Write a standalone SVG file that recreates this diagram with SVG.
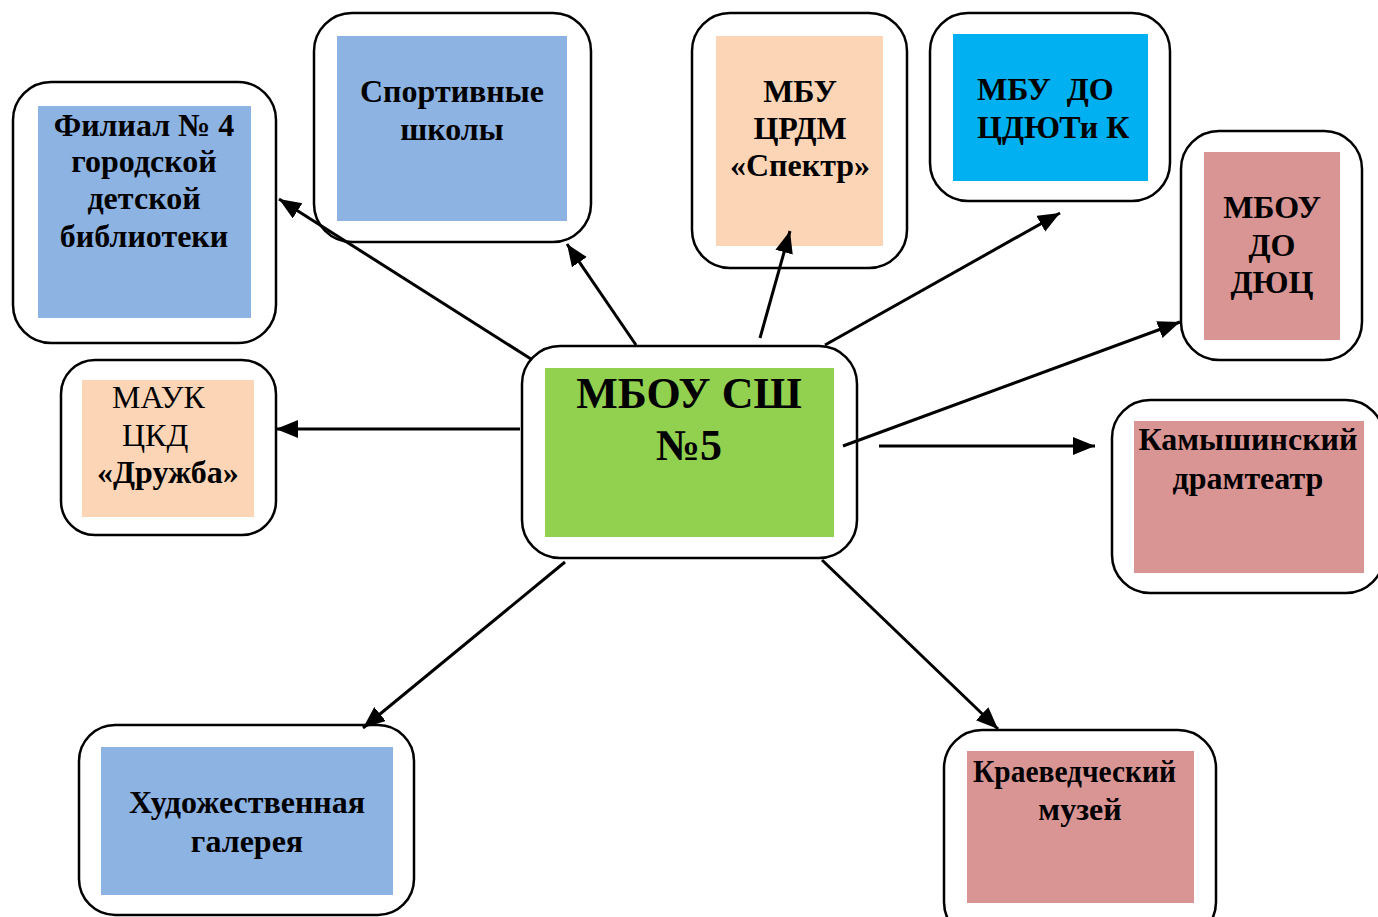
<svg xmlns="http://www.w3.org/2000/svg" width="1378" height="917" viewBox="0 0 1378 917">
<style>
.box{fill:#fff;stroke:#000;stroke-width:2.5}
.t{font-family:"Liberation Serif","Times New Roman",serif;font-weight:bold;font-size:32px;fill:#000}
.r{font-weight:normal}
.c{text-anchor:middle}
.blue{fill:#8DB3E2}.peach{fill:#FBD5B5}.cyan{fill:#00B0F0}.rose{fill:#D99594}.green{fill:#92D050}
.ln{stroke:#000;stroke-width:3;fill:none;marker-end:url(#ah)}
</style>
<defs>
<marker id="ah" markerUnits="userSpaceOnUse" markerWidth="24" markerHeight="20" refX="22" refY="9" orient="auto" viewBox="0 0 24 20">
<path d="M0,0 L22,9 L0,18 z" fill="#000"/>
</marker>
</defs>
<rect width="1378" height="917" fill="#fff"/>
<g id="filial">
<rect class="box" x="13" y="82" width="263" height="261" rx="38"/>
<rect class="blue" x="38" y="106" width="213" height="212"/>
<text class="t c" x="144"><tspan x="144" y="136">Филиал № 4</tspan><tspan x="144" y="172">городской</tspan><tspan x="144" y="209">детской</tspan><tspan x="144" y="247">библиотеки</tspan></text>
</g>
<g id="sport">
<rect class="box" x="314" y="13" width="277" height="229" rx="38"/>
<rect class="blue" x="337" y="36" width="230" height="185"/>
<text class="t c"><tspan x="452" y="102">Спортивные</tspan><tspan x="452" y="140">школы</tspan></text>
</g>
<g id="crdm">
<rect class="box" x="692" y="13" width="215" height="255" rx="38"/>
<rect class="peach" x="716" y="36" width="167" height="210"/>
<text class="t c"><tspan x="800" y="102">МБУ</tspan><tspan x="800" y="139">ЦРДМ</tspan><tspan x="800" y="176">«Спектр»</tspan></text>
</g>
<g id="cdyut">
<rect class="box" x="930" y="13" width="240" height="188" rx="38"/>
<rect class="cyan" x="953" y="34" width="195" height="147"/>
<text class="t" style="white-space:pre"><tspan x="977" y="100">МБУ  ДО</tspan><tspan x="977" y="138">ЦДЮТи К</tspan></text>
</g>
<g id="dyuc">
<rect class="box" x="1181" y="131" width="181" height="229" rx="38"/>
<rect class="rose" x="1204" y="152" width="136" height="188"/>
<text class="t c"><tspan x="1272" y="218">МБОУ</tspan><tspan x="1272" y="256">ДО</tspan><tspan x="1272" y="293">ДЮЦ</tspan></text>
</g>
<g id="drama">
<rect class="box" x="1112" y="400" width="272" height="193" rx="38"/>
<rect class="rose" x="1134" y="421" width="230" height="152"/>
<text class="t c"><tspan x="1248" y="450">Камышинский</tspan><tspan x="1248" y="489">драмтеатр</tspan></text>
</g>
<g id="mauk">
<rect class="box" x="61" y="360" width="215" height="175" rx="34"/>
<rect class="peach" x="82" y="380" width="172" height="137"/>
<text class="t r" x="112" y="408">МАУК</text>
<text class="t r" x="122" y="446">ЦКД</text>
<text class="t" x="97" y="483">«Дружба»</text>
</g>
<g id="center">
<rect class="box" x="522" y="346" width="335" height="212" rx="38"/>
<rect class="green" x="545" y="368" width="289" height="169"/>
<text class="t c" style="font-size:44px"><tspan x="689" y="408">МБОУ СШ</tspan><tspan x="689" y="460">№5</tspan></text>
</g>
<g id="gallery">
<rect class="box" x="79" y="725" width="335" height="190" rx="36"/>
<rect class="blue" x="101" y="747" width="292" height="148"/>
<text class="t c"><tspan x="247" y="813">Художественная</tspan><tspan x="247" y="852">галерея</tspan></text>
</g>
<g id="museum">
<rect class="box" x="944" y="730" width="272" height="210" rx="38"/>
<rect class="rose" x="967" y="751" width="227" height="152"/>
<text class="t" x="973" y="782" textLength="203" lengthAdjust="spacingAndGlyphs">Краеведческий</text>
<text class="t c" x="1080" y="820">музей</text>
</g>
<g id="connectors">
<line class="ln" x1="531" y1="359" x2="279" y2="199"/>
<line class="ln" x1="636" y1="345" x2="567" y2="244"/>
<line class="ln" x1="760" y1="338" x2="790" y2="231"/>
<line class="ln" x1="825" y1="345" x2="1060" y2="213"/>
<line class="ln" x1="843" y1="446" x2="1180" y2="322"/>
<line class="ln" x1="879" y1="446" x2="1095" y2="446"/>
<line class="ln" x1="520" y1="429" x2="276" y2="429"/>
<line class="ln" x1="565" y1="562" x2="363" y2="728"/>
<line class="ln" x1="822" y1="560" x2="998" y2="729"/>
</g>
</svg>
